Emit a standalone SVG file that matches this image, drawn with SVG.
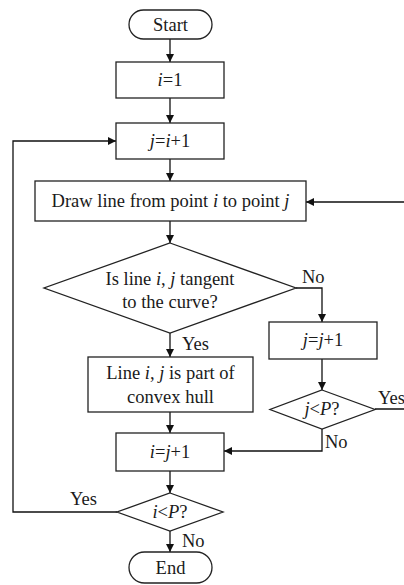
<svg xmlns="http://www.w3.org/2000/svg" width="404" height="585" viewBox="0 0 404 585">
<defs>
<marker id="ah" viewBox="0 0 10 10" refX="10" refY="5" markerWidth="8" markerHeight="8" markerUnits="userSpaceOnUse" orient="auto">
<path d="M0,0 L10,5 L0,10 z" fill="#111"/>
</marker>
</defs>
<style>
.s{fill:#fff;stroke:#222;stroke-width:1.3}
.t{font-family:"Liberation Serif","Times New Roman",serif;font-size:18.5px;fill:#1a1a1a;text-anchor:middle}
.l{font-family:"Liberation Serif","Times New Roman",serif;font-size:18.5px;fill:#1a1a1a}
.c{fill:none;stroke:#111;stroke-width:1.3;marker-end:url(#ah)}
tspan.i{font-style:italic}
</style>
<rect width="404" height="585" fill="#fff"/>
<g id="connectors">
<path class="c" d="M170,39 V62"/>
<path class="c" d="M170,98 V123"/>
<path class="c" d="M170,159 V181"/>
<path class="c" d="M170,221 V243"/>
<path class="c" d="M296,288 H322 V322"/>
<path class="c" d="M170,333 V357"/>
<path class="c" d="M322,359 V390"/>
<path class="c" d="M375,409 H408 V202 H306"/>
<path class="c" d="M322,429 V451 H224"/>
<path class="c" d="M170,412 V433"/>
<path class="c" d="M170,471 V493"/>
<path class="c" d="M117,512 H13 V141 H116"/>
<path class="c" d="M170,531 V552"/>
<text class="l" x="302" y="283">No</text>
<text class="l" x="182" y="350">Yes</text>
<text class="l" x="378" y="404">Yes</text>
<text class="l" x="325" y="448">No</text>
<text class="l" x="70" y="505">Yes</text>
<text class="l" x="182" y="547">No</text>
</g>
<g id="start">
<rect class="s" x="129" y="10" width="83" height="29" rx="14.5"/>
<text class="t" x="170.5" y="31">Start</text>
</g>
<g id="init-i">
<rect class="s" x="116" y="62" width="108" height="36"/>
<text class="t" x="170" y="86"><tspan class="i">i</tspan>=1</text>
</g>
<g id="set-j">
<rect class="s" x="116" y="123" width="108" height="36"/>
<text class="t" x="170" y="147"><tspan class="i">j</tspan>=<tspan class="i">i</tspan>+1</text>
</g>
<g id="draw-line">
<rect class="s" x="35" y="181" width="271" height="40"/>
<text class="t" x="170.5" y="207">Draw line from point <tspan class="i">i</tspan> to point <tspan class="i">j</tspan></text>
</g>
<g id="tangent-check">
<polygon class="s" points="170,243 296,288 170,333 44,288"/>
<text class="t" x="170" y="285">Is line <tspan class="i">i</tspan>, <tspan class="i">j</tspan> tangent</text>
<text class="t" x="170" y="308">to the curve?</text>
</g>
<g id="inc-j">
<rect class="s" x="269" y="322" width="108" height="37"/>
<text class="t" x="323" y="346"><tspan class="i">j</tspan>=<tspan class="i">j</tspan>+1</text>
</g>
<g id="hull">
<rect class="s" x="88" y="357" width="165" height="55"/>
<text class="t" x="170.5" y="379">Line <tspan class="i">i</tspan>, <tspan class="i">j</tspan> is part of</text>
<text class="t" x="170.5" y="403">convex hull</text>
</g>
<g id="j-check">
<polygon class="s" points="322,390 375,409.5 322,429 270,409.5"/>
<text class="t" x="322" y="415"><tspan class="i">j</tspan>&lt;<tspan class="i">P</tspan>?</text>
</g>
<g id="set-i">
<rect class="s" x="116" y="433" width="108" height="38"/>
<text class="t" x="170" y="458"><tspan class="i">i</tspan>=<tspan class="i">j</tspan>+1</text>
</g>
<g id="i-check">
<polygon class="s" points="170,493 223,512 170,531 117,512"/>
<text class="t" x="170" y="518"><tspan class="i">i</tspan>&lt;<tspan class="i">P</tspan>?</text>
</g>
<g id="end">
<rect class="s" x="129" y="552" width="83" height="31" rx="15.5"/>
<text class="t" x="170.5" y="574">End</text>
</g>
</svg>
